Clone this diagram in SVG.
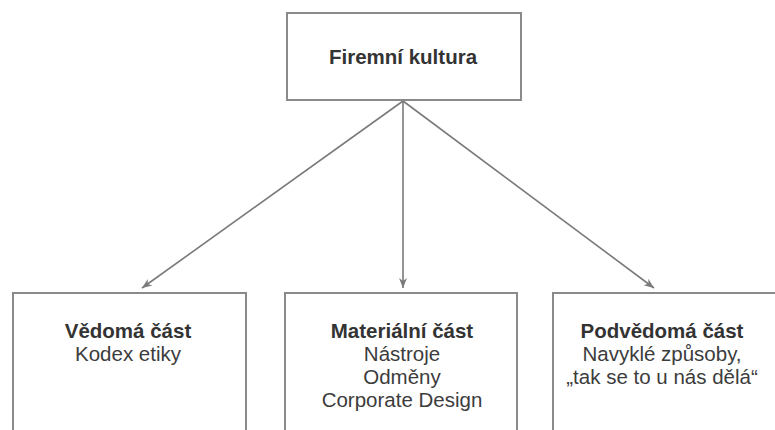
<svg xmlns="http://www.w3.org/2000/svg" width="775" height="430" viewBox="0 0 775 430">
<style>
.box{fill:#fff;stroke:#8a8a8a;stroke-width:2}
.t{font-family:"Liberation Sans",Arial,sans-serif;font-size:20.5px;fill:#3c3c3c;text-anchor:middle}
.b{font-weight:bold;fill:#333}
.c{stroke:#7a7a7a;stroke-width:1.6;fill:none;marker-end:url(#ah)}
</style>
<defs>
<marker id="ah" viewBox="0 0 10 10" refX="10" refY="5" markerWidth="10" markerHeight="10" markerUnits="userSpaceOnUse" orient="auto">
<path d="M0,1 L10,5 L0,9 L3,5 Z" fill="#7a7a7a"/>
</marker>
</defs>
<rect width="775" height="430" fill="#fff"/>
<g id="connectors">
<line class="c" x1="403" y1="101" x2="142" y2="288"/>
<line class="c" x1="403" y1="101" x2="403" y2="288"/>
<line class="c" x1="403" y1="101" x2="654" y2="288"/>
</g>
<g id="firemni-kultura">
<rect class="box" x="287" y="13" width="234" height="87"/>
<text class="t b" x="403" y="64">Firemní kultura</text>
</g>
<g id="vedoma-cast">
<rect class="box" x="13" y="293" width="233" height="150"/>
<text class="t b" x="128" y="338">Vědomá část</text>
<text class="t" x="128" y="361">Kodex etiky</text>
</g>
<g id="materialni-cast">
<rect class="box" x="285" y="293" width="232" height="150"/>
<text class="t b" x="402" y="338">Materiální část</text>
<text class="t" x="402" y="361">Nástroje</text>
<text class="t" x="402" y="384">Odměny</text>
<text class="t" x="402" y="407">Corporate Design</text>
</g>
<g id="podvedoma-cast">
<rect class="box" x="553" y="293" width="240" height="150"/>
<text class="t b" x="662" y="338">Podvědomá část</text>
<text class="t" x="662" y="361">Navyklé způsoby,</text>
<text class="t" x="662" y="384">„tak se to u nás dělá“</text>
</g>
</svg>
